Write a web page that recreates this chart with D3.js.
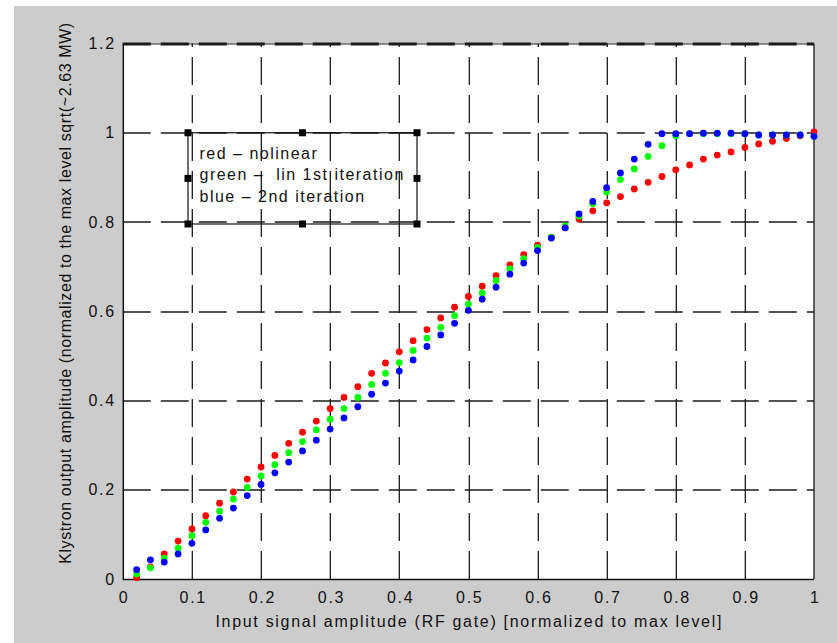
<!DOCTYPE html>
<html>
<head>
<meta charset="utf-8">
<script src="https://cdn.jsdelivr.net/npm/d3@7/dist/d3.min.js"></script>
<style>
  body { margin: 0; background: #fff; }
  text { font-family: "Liberation Sans", Arial, Helvetica, sans-serif; fill: #111; }
</style>
</head>
<body>
<div id="chart"></div>
<script>
// input amplitude (normalized), 0.02 .. 1.00
const inputLevels = [0.02, 0.04, 0.06, 0.08, 0.10, 0.12, 0.14, 0.16, 0.18, 0.20,
  0.22, 0.24, 0.26, 0.28, 0.30, 0.32, 0.34, 0.36, 0.38, 0.40,
  0.42, 0.44, 0.46, 0.48, 0.50, 0.52, 0.54, 0.56, 0.58, 0.60,
  0.62, 0.64, 0.66, 0.68, 0.70, 0.72, 0.74, 0.76, 0.78, 0.80,
  0.82, 0.84, 0.86, 0.88, 0.90, 0.92, 0.94, 0.96, 0.98, 1.00];

// red - nolinear
const redValues = [0.003, 0.027, 0.056, 0.085, 0.112, 0.142, 0.170, 0.195, 0.224, 0.251,
  0.277, 0.304, 0.329, 0.354, 0.382, 0.407, 0.431, 0.461, 0.484, 0.509,
  0.534, 0.559, 0.585, 0.609, 0.633, 0.656, 0.680, 0.704, 0.727, 0.748,
  0.766, 0.787, 0.807, 0.825, 0.843, 0.857, 0.874, 0.889, 0.902, 0.917,
  0.928, 0.941, 0.950, 0.957, 0.967, 0.975, 0.981, 0.987, 0.993, 1.002];

// green - lin 1st iteration
const greenValues = [0.011, 0.025, 0.047, 0.069, 0.097, 0.127, 0.152, 0.179, 0.205, 0.231,
  0.256, 0.283, 0.308, 0.334, 0.358, 0.382, 0.407, 0.436, 0.461, 0.485,
  0.512, 0.540, 0.564, 0.590, 0.616, 0.641, 0.669, 0.695, 0.718, 0.743,
  0.766, 0.791, 0.813, 0.841, 0.867, 0.895, 0.919, 0.947, 0.971, 0.993,
  0.998, 0.998, 0.998, 0.998, 0.998, 0.995, 0.995, 0.995, 0.995, 0.992];

// blue - 2nd iteration
const blueValues = [0.021, 0.043, 0.038, 0.056, 0.080, 0.110, 0.136, 0.159, 0.187, 0.212,
  0.238, 0.262, 0.287, 0.311, 0.336, 0.361, 0.386, 0.414, 0.439, 0.466,
  0.491, 0.521, 0.547, 0.573, 0.602, 0.627, 0.654, 0.683, 0.708, 0.736,
  0.764, 0.787, 0.818, 0.846, 0.877, 0.910, 0.941, 0.974, 0.998, 0.998,
  0.998, 0.999, 0.999, 0.999, 0.998, 0.995, 0.995, 0.995, 0.995, 0.992];

const xTicks = [0, 0.1, 0.2, 0.3, 0.4, 0.5, 0.6, 0.7, 0.8, 0.9, 1];
const yTicks = [0, 0.2, 0.4, 0.6, 0.8, 1, 1.2];
const legendLines = ["red \u2013 nolinear", "green \u2013  lin 1st iteration", "blue \u2013 2nd iteration"];

const W = 837, H = 643;
const margin = { top: 43.5, left: 122.8 };
const plotW = 691.2, plotH = 535.5;

const svg = d3.select("#chart").append("svg")
  .attr("width", W)
  .attr("height", H);

// figure background (gray, with thin white strip on top/left)
svg.append("rect").attr("x", 14).attr("y", 6).attr("width", W - 14).attr("height", H - 6).attr("fill", "#cccccc");

const g = svg.append("g").attr("transform", `translate(${margin.left},${margin.top})`);

const x = d3.scaleLinear().domain([0, 1]).range([0, plotW]);
const y = d3.scaleLinear().domain([0, 1.2]).range([plotH, 0]);

g.append("rect").attr("width", plotW).attr("height", plotH).attr("fill", "#ffffff");

// axes box
g.append("line").attr("x1", 0).attr("x2", plotW).attr("y1", 0.5).attr("y2", 0.5).attr("stroke", "#222").attr("stroke-width", 1);
g.append("line").attr("x1", 0.5).attr("x2", 0.5).attr("y1", 0).attr("y2", plotH).attr("stroke", "#111").attr("stroke-width", 1.5);
g.append("line").attr("x1", 0).attr("x2", plotW).attr("y1", plotH + 0.5).attr("y2", plotH + 0.5).attr("stroke", "#111").attr("stroke-width", 1.5);
g.append("line").attr("x1", plotW).attr("x2", plotW).attr("y1", 0).attr("y2", plotH).attr("stroke", "#333").attr("stroke-width", 1.5);

// dashed grid
g.selectAll(".hgrid").data(yTicks.slice(1)).join("line")
  .attr("class", "hgrid")
  .attr("x1", 0).attr("x2", plotW)
  .attr("y1", d => Math.round(y(d)) + 0.5).attr("y2", d => Math.round(y(d)) + 0.5)
  .attr("stroke", "#1a1a1a")
  .attr("stroke-width", d => d === 1.2 ? 3 : 1.3)
  .attr("stroke-dasharray", "28,10");

g.selectAll(".vgrid").data(xTicks.slice(1, -1)).join("line")
  .attr("class", "vgrid")
  .attr("x1", d => Math.round(x(d)) + 0.5).attr("x2", d => Math.round(x(d)) + 0.5)
  .attr("y1", plotH).attr("y2", 0)
  .attr("stroke", "#1a1a1a")
  .attr("stroke-width", 1.3)
  .attr("stroke-dasharray", "28,10");

// axes
const xAxis = g.append("g").attr("transform", `translate(0,${plotH})`)
  .call(d3.axisBottom(x).tickValues(xTicks).tickSize(0).tickPadding(13)
    .tickFormat(d => d3.format("~g")(d)));
const yAxis = g.append("g")
  .call(d3.axisLeft(y).tickValues(yTicks).tickSize(0).tickPadding(7)
    .tickFormat(d => d3.format("~g")(d)));
[xAxis, yAxis].forEach(a => {
  a.select(".domain").remove();
  a.selectAll("text").style("font-size", "16px").style("letter-spacing", "1.7px").attr("fill", "#111");
});
xAxis.selectAll("text").attr("dx", "0.85px");

// data markers
const series = [
  { values: redValues, color: "#ff0000" },
  { values: greenValues, color: "#00ff00" },
  { values: blueValues, color: "#0000ff" }
];
series.forEach(s => {
  g.append("g").selectAll("circle")
    .data(inputLevels.map((v, i) => [v, s.values[i]]))
    .join("circle")
    .attr("cx", d => x(d[0]))
    .attr("cy", d => y(d[1]))
    .attr("r", 3.4)
    .attr("fill", s.color);
});

// legend box with selection handles
const lx0 = 188 - margin.left, lx1 = 417 - margin.left;
const ly0 = y(1), ly1 = 224 - margin.top;
const legend = g.append("g");
legend.append("rect")
  .attr("x", lx0).attr("y", ly0)
  .attr("width", lx1 - lx0).attr("height", ly1 - ly0)
  .attr("fill", "none").attr("stroke", "#111").attr("stroke-width", 1.2);
const handles = [[lx0, ly0], [(lx0 + lx1) / 2, ly0], [lx1, ly0],
  [lx0, (ly0 + ly1) / 2], [lx1, (ly0 + ly1) / 2],
  [lx0, ly1], [(lx0 + lx1) / 2, ly1], [lx1, ly1]];
legend.selectAll(".handle").data(handles).join("rect")
  .attr("class", "handle")
  .attr("x", d => d[0] - 3.5).attr("y", d => d[1] - 3.5)
  .attr("width", 7).attr("height", 7)
  .attr("fill", "#000");
legend.selectAll(".ltext").data(legendLines).join("text")
  .attr("class", "ltext")
  .attr("x", 199.5 - margin.left)
  .attr("y", (d, i) => 158.5 - margin.top + i * 21.5)
  .style("font-size", "16px")
  .style("letter-spacing", "1.5px")
  .style("white-space", "pre")
  .text(d => d);

// axis titles
svg.append("text")
  .attr("x", margin.left + plotW / 2 + 0.85)
  .attr("y", 627)
  .attr("text-anchor", "middle")
  .style("font-size", "16px")
  .style("letter-spacing", "1.7px")
  .text("Input signal amplitude (RF gate) [normalized to max level]");

svg.append("text")
  .attr("transform", `translate(71,293) rotate(-90)`)
  .attr("text-anchor", "middle")
  .style("font-size", "16px")
  .style("letter-spacing", "0.6px")
  .text("Klystron output amplitude (normalized to the max level sqrt(~2.63 MW)");
</script>
</body>
</html>
